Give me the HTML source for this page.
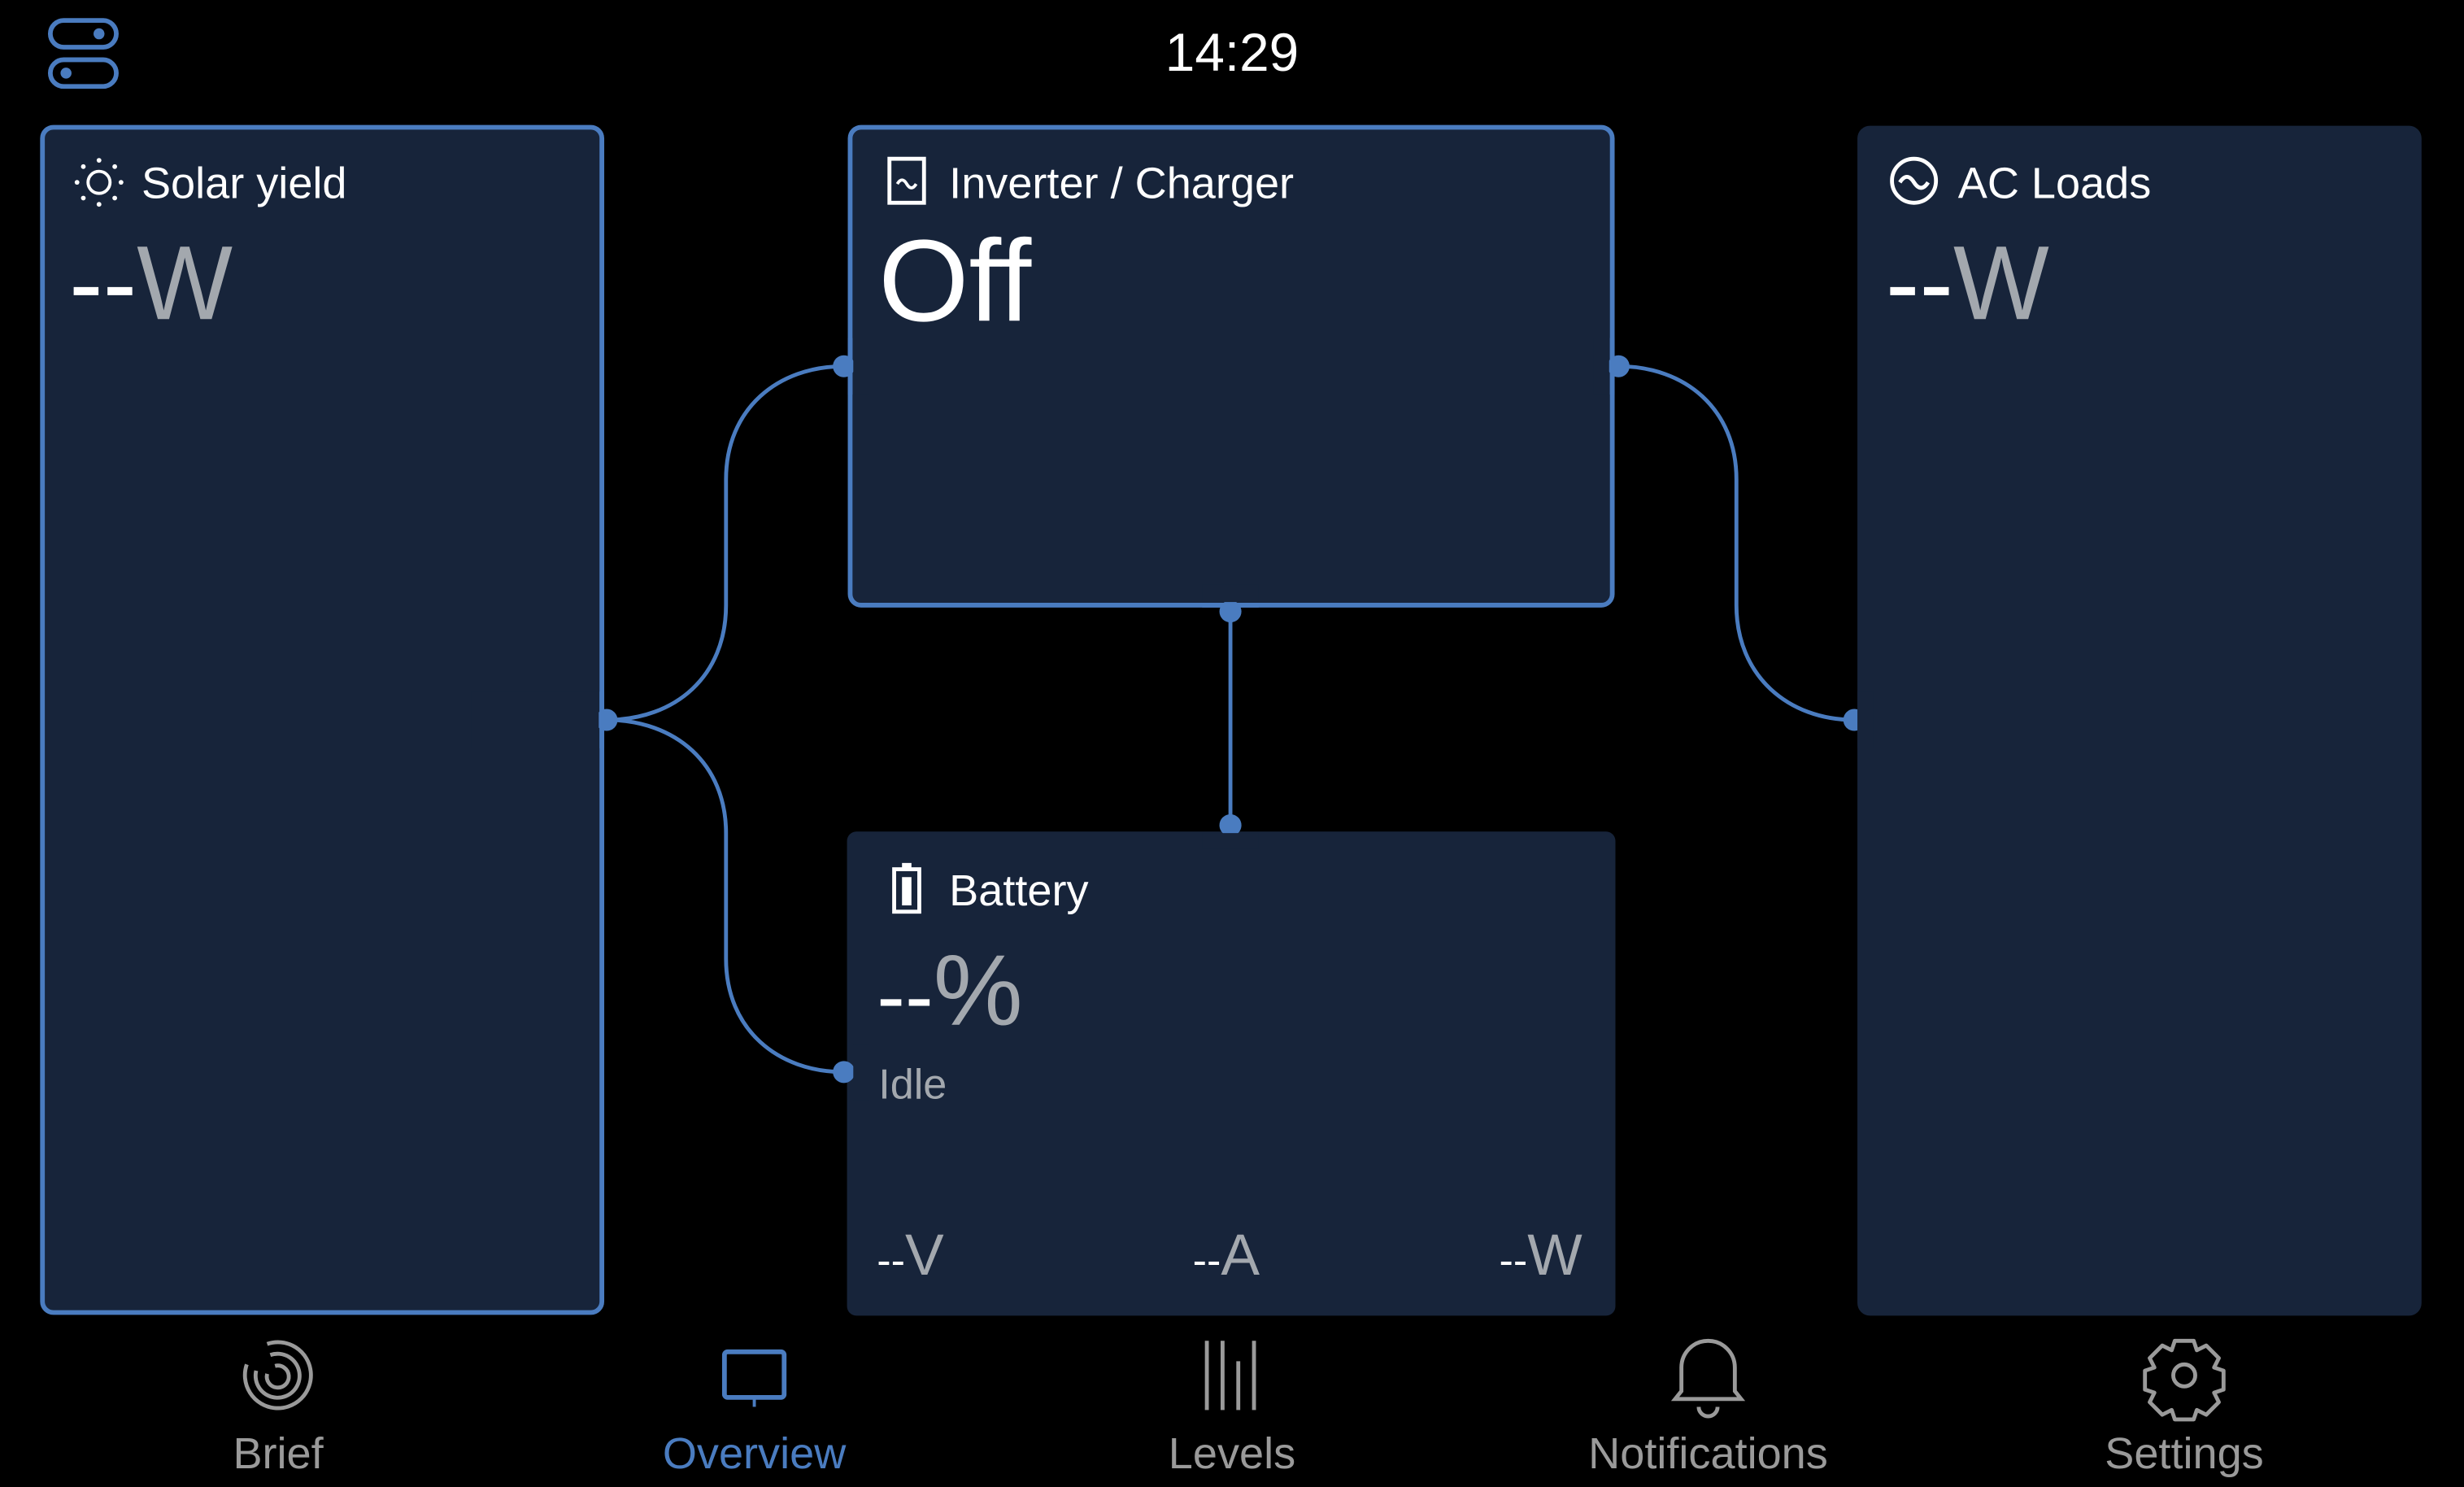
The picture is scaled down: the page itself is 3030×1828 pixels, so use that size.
<!DOCTYPE html>
<html><head><meta charset="utf-8"><style>
html,body{margin:0;padding:0;background:#000;width:3030px;height:1828px;overflow:hidden}
svg{display:block}
text{font-family:"Liberation Sans",sans-serif}
</style></head><body>
<svg width="3030" height="1828" viewBox="0 0 1568 946" xmlns="http://www.w3.org/2000/svg">
<rect width="1568" height="946" fill="#000"/>
<rect x="32" y="13" width="42" height="17" rx="8.5" fill="none" stroke="#4a7cc0" stroke-width="3"/>
<circle cx="63" cy="21.5" r="3.5" fill="#4a7cc0"/>
<rect x="32" y="38" width="42" height="17" rx="8.5" fill="none" stroke="#4a7cc0" stroke-width="3"/>
<circle cx="42" cy="46.5" r="3.5" fill="#4a7cc0"/>
<text x="784" y="45" font-size="34" fill="#fff" text-anchor="middle">14:29</text>

<g fill="none" stroke="#4a7cc0" stroke-width="2.5">
<path d="M386 458 C430 458 462 430 462 385 L462 305 C462 260 495 233 537 233"/>
<path d="M386 458 C430 458 462 486 462 530 L462 610 C462 655 495 682 537 682"/>
<path d="M1030 233 C1072 233 1105 260 1105 305 L1105 385 C1105 430 1138 458 1180 458"/>
<path d="M783 389 L783 525"/>
</g>

<rect x="27" y="81" width="356" height="754" rx="7" fill="#17243a" stroke="#4a7cc0" stroke-width="3"/>
<rect x="541" y="81" width="485" height="304" rx="7" fill="#17243a" stroke="#4a7cc0" stroke-width="3"/>
<rect x="1182" y="80" width="359" height="757" rx="8" fill="#17243a"/>
<rect x="539" y="529" width="489" height="308" rx="6" fill="#17243a"/>

<g fill="#4a7cc0">
<circle cx="386" cy="458" r="7"/>
<circle cx="537" cy="233" r="7"/>
<circle cx="537" cy="682" r="7"/>
<circle cx="1030" cy="233" r="7"/>
<circle cx="1180" cy="458" r="7"/>
<circle cx="783" cy="389" r="7"/>
<circle cx="783" cy="525" r="7"/>
</g>
<rect x="300" y="440" width="81" height="36" fill="#17243a"/>
<rect x="543" y="215" width="10" height="36" fill="#17243a"/>
<rect x="543" y="664" width="10" height="36" fill="#17243a"/>
<rect x="1014" y="215" width="10" height="36" fill="#17243a"/>
<rect x="1182" y="440" width="10" height="36" fill="#17243a"/>
<rect x="765" y="372" width="36" height="11" fill="#17243a"/>
<rect x="765" y="530" width="36" height="10" fill="#17243a"/>
<line x1="383" y1="440" x2="383" y2="476" stroke="#4a7cc0" stroke-width="3"/>
<line x1="541" y1="215" x2="541" y2="251" stroke="#4a7cc0" stroke-width="3"/>
<line x1="1026" y1="215" x2="1026" y2="251" stroke="#4a7cc0" stroke-width="3"/>
<line x1="765" y1="385" x2="801" y2="385" stroke="#4a7cc0" stroke-width="3"/>

<g stroke="#fff" fill="none" stroke-width="2">
<circle cx="63" cy="116" r="7"/>
</g>
<g fill="#fff">
<circle cx="63" cy="102" r="1.5"/><circle cx="63" cy="130" r="1.5"/>
<circle cx="49" cy="116" r="1.5"/><circle cx="77" cy="116" r="1.5"/>
<circle cx="53" cy="106" r="1.5"/><circle cx="73" cy="106" r="1.5"/>
<circle cx="53" cy="126" r="1.5"/><circle cx="73" cy="126" r="1.5"/>
</g>
<text x="90" y="126" font-size="28" fill="#fff">Solar yield</text>
<text x="44" y="203" font-size="67" fill="#a3a8ae" textLength="104" lengthAdjust="spacingAndGlyphs"><tspan fill="#fff">--</tspan>W</text>

<rect x="566" y="101" width="22" height="28" fill="none" stroke="#fff" stroke-width="2.5"/>
<path d="M571 117 q3 -5 6 0 t6 0" stroke="#fff" stroke-width="2" fill="none"/>
<text x="604" y="126" font-size="28" fill="#fff">Inverter / Charger</text>
<text x="559" y="204" font-size="74" fill="#fff">Off</text>

<circle cx="1218" cy="115" r="14" fill="none" stroke="#fff" stroke-width="2.5"/>
<path d="M1209 116 q4.5 -7 9 0 t9 0" stroke="#fff" stroke-width="2.5" fill="none"/>
<text x="1246" y="126" font-size="28" fill="#fff">AC Loads</text>
<text x="1200" y="203" font-size="67" fill="#a3a8ae" textLength="104" lengthAdjust="spacingAndGlyphs"><tspan fill="#fff">--</tspan>W</text>

<rect x="569" y="553" width="16" height="27" fill="none" stroke="#fff" stroke-width="2.5"/>
<rect x="574" y="549" width="6" height="4" fill="#fff"/>
<rect x="574" y="558" width="6" height="18" fill="#fff"/>
<text x="604" y="576" font-size="28" fill="#fff">Battery</text>
<text x="558" y="652" font-size="64" fill="#a3a8ae"><tspan fill="#fff" font-size="54">--</tspan>%</text>
<text x="559" y="699" font-size="27" fill="#a3a8ae">Idle</text>
<text x="558" y="811" font-size="37" fill="#a3a8ae"><tspan fill="#fff" font-size="27">--</tspan>V</text>
<text x="759" y="811" font-size="37" fill="#a3a8ae"><tspan fill="#fff" font-size="27">--</tspan>A</text>
<text x="954" y="811" font-size="37" fill="#a3a8ae"><tspan fill="#fff" font-size="27">--</tspan>W</text>

<g fill="none" stroke="#9a9a9a" stroke-width="2.5">
<path d="M170 855 A21 21 0 1 1 157 868"/>
<path d="M172 862 A14 14 0 1 1 163 872"/>
<path d="M175 869 A7 7 0 1 1 170 874"/>
<line x1="768" y1="853" x2="768" y2="897"/><line x1="778" y1="853" x2="778" y2="897"/>
<line x1="788" y1="866" x2="788" y2="897"/><line x1="798" y1="853" x2="798" y2="897"/>
<path d="M1070 885 L1070 870 A17 17 0 0 1 1104 870 L1104 885 L1108 890 L1066 890 Z"/>
<path d="M1081 895 A6 6 0 0 0 1093 895"/>
<circle cx="1390" cy="875" r="7"/>
<path d="M1384 853 h12 l2 6 l6 -3 l8 8 l-3 6 l6 2 v12 l-6 2 l3 6 l-8 8 l-6 -3 l-2 6 h-12 l-2 -6 l-6 3 l-8 -8 l3 -6 l-6 -2 v-12 l6 -2 l-3 -6 l8 -8 l6 3 z" stroke-linejoin="round"/>
</g>
<rect x="461" y="860" width="38" height="29" rx="2" fill="none" stroke="#4a7cc0" stroke-width="3"/>
<line x1="480" y1="889" x2="480" y2="895" stroke="#4a7cc0" stroke-width="2"/>
<g font-size="28" text-anchor="middle" fill="#9a9a9a">
<text x="177" y="934">Brief</text>
<text x="480" y="934" fill="#4a7cc0">Overview</text>
<text x="784" y="934">Levels</text>
<text x="1087" y="934">Notifications</text>
<text x="1390" y="934">Settings</text>
</g>
</svg>
</body></html>
